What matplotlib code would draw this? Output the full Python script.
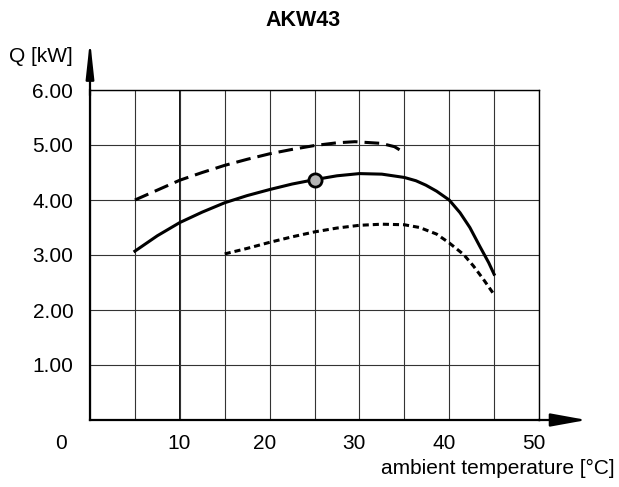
import matplotlib
matplotlib.use("Agg")
import matplotlib.pyplot as plt

plt.rcParams["font.family"] = ["Liberation Sans", "DejaVu Sans"]

# values
t_upper = [5, 7.5, 10, 12.5, 15, 17.5, 20, 22.5, 25, 27.5, 29.5, 32.4, 33.9, 35]
q_upper = [4.00, 4.18, 4.36, 4.50, 4.63, 4.74, 4.84, 4.92, 4.99, 5.04, 5.06, 5.03, 4.97, 4.86]

t_mid = [5, 7.5, 10, 12.5, 15, 17.5, 20, 22.5, 25, 27.5, 30, 32.5, 35, 36.3, 37.4,
         38.6, 40, 41.2, 42.3, 43.4, 44.4, 45]
q_mid = [3.07, 3.35, 3.59, 3.78, 3.95, 4.08, 4.19, 4.29, 4.37, 4.44, 4.48, 4.47, 4.41, 4.35, 4.27,
         4.16, 4.00, 3.77, 3.50, 3.16, 2.86, 2.65]

t_low = [15, 17.5, 20, 22.5, 25, 27.5, 30, 32.5, 35, 36.7, 38.6, 40, 41.6, 42.7, 43.8, 45]
q_low = [3.02, 3.12, 3.23, 3.33, 3.42, 3.49, 3.54, 3.56, 3.55, 3.50, 3.38, 3.22, 3.01, 2.80, 2.56, 2.28]

point_t = [25]
point_q = [4.37]

x_labels = [0, 10, 20, 30, 40, 50]
y_labels = [1, 2, 3, 4, 5, 6]

fig = plt.figure(figsize=(6.19, 4.87), dpi=100)
ax = fig.add_axes([90 / 619, 1 - 420 / 487, 449 / 619, 330 / 487])
ax.set_xlim(0, 50)
ax.set_ylim(0, 6)

# grid
ax.set_xticks(range(0, 51, 5))
ax.set_yticks(y_labels)
ax.set_xticklabels([])
ax.set_yticklabels([f"{v:.2f}" for v in y_labels], fontsize=15)
ax.tick_params(axis="both", length=0)
ax.tick_params(axis="y", pad=12)
ax.grid(True, color="#333333", lw=0.8)
ax.axvline(10, color="black", lw=1.3, zorder=1)

for s in ["top", "right"]:
    ax.spines[s].set_linewidth(1.0)
for s in ["left", "bottom"]:
    ax.spines[s].set_linewidth(1.6)

# x tick labels (hand placed like the original)
for v in x_labels:
    shift = -3.2 if v == 0 else (-0.1 if v == 10 else -0.6)
    ax.text(v + shift, -0.42, str(v), ha="center", va="center", fontsize=15)

# arrows on axes
ax.annotate("", xy=(0, 6.91), xytext=(0, 5.9), annotation_clip=False,
            arrowprops=dict(arrowstyle="-|>,head_length=1.1,head_width=0.12",
                            mutation_scale=20, lw=1.6, color="black", shrinkA=0, shrinkB=0))
ax.annotate("", xy=(55.3, 0), xytext=(49.9, 0), annotation_clip=False,
            arrowprops=dict(arrowstyle="-|>,head_length=1.1,head_width=0.2",
                            mutation_scale=20, lw=1.6, color="black", shrinkA=0, shrinkB=0))

# curves
ax.plot(t_upper, q_upper, color="black", lw=2.2, dashes=(4.8, 2.3), zorder=3)
ax.plot(t_mid, q_mid, color="black", lw=2.2, zorder=3, solid_joinstyle="round")
ax.plot(t_low, q_low, color="black", lw=2.2, dashes=(2.0, 1.3), zorder=3)
ax.plot(point_t, point_q, "o", ms=9.5, mfc="#b4b4b4", mec="black", mew=2, zorder=4)

fig.text(303 / 619, 1 - 20 / 487, "AKW43", ha="center", va="center", fontsize=15.5, fontweight="bold")
fig.text(73 / 619, 1 - 56 / 487, "Q [kW]", ha="right", va="center", fontsize=15)
fig.text(615 / 619, 1 - 468 / 487, "ambient temperature [°C]", ha="right", va="center", fontsize=15)

fig.savefig("out.png", dpi=100)
